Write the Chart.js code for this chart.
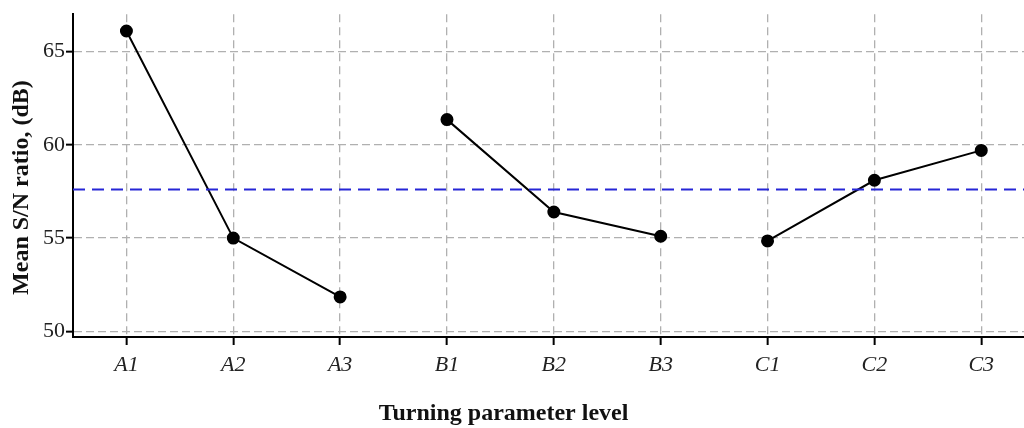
<!DOCTYPE html>
<html>
<head>
<meta charset="utf-8">
<script src="https://cdn.jsdelivr.net/npm/chart.js@4"></script>
<style>
  html, body { margin: 0; padding: 0; background: #fff; overflow: hidden; }
</style>
</head>
<body>
<canvas id="snChart" width="1024" height="428"></canvas>
<script>
// parameter levels, grouped A / B / C
const niveis = ['A1', 'A2', 'A3', 'B1', 'B2', 'B3', 'C1', 'C2', 'C3'];
const grupos = [[0, 1, 2], [3, 4, 5], [6, 7, 8]];
// mean S/N ratio (dB)
const snMedio = [66.1, 55.0, 51.85, 61.35, 56.4, 55.1, 54.85, 58.1, 59.7];
const mediaGeral = 57.6;
const yTicks = [50, 55, 60, 65];

const serif = '"Liberation Serif", "Times New Roman", serif';
const nbsp = n => '\u00a0'.repeat(n);

// one line per factor, broken between groups
const datasetsGrupos = grupos.map(g => ({
  data: g.map(i => ({ x: i + 1, y: snMedio[i] })),
  borderColor: '#000',
  backgroundColor: '#000',
  borderWidth: 2,
  pointRadius: 5.5,
  pointHoverRadius: 5.5,
  pointBackgroundColor: '#000',
  fill: false,
  tension: 0
}));

const linhaMedia = {
  data: [{ x: 0.5, y: mediaGeral }, { x: 9.45, y: mediaGeral }],
  borderColor: '#2626d6',
  borderWidth: 2,
  borderDash: [12, 7],
  pointRadius: 0,
  fill: false
};

new Chart(document.getElementById('snChart'), {
  type: 'line',
  data: { datasets: [linhaMedia, ...datasetsGrupos] },
  options: {
    responsive: false,
    animation: false,
    layout: { autoPadding: false, padding: { top: 12, right: 0, left: 0, bottom: 0 } },
    plugins: { legend: { display: false }, tooltip: { enabled: false } },
    scales: {
      x: {
        type: 'linear',
        min: 0.5,
        max: 9.4,
        afterBuildTicks: s => { s.ticks = niveis.map((n, i) => ({ value: i + 1 })); },
        afterFit: s => { s.height = 91; s.paddingLeft = 0; s.paddingRight = 0; },
        ticks: {
          callback: v => niveis[v - 1] || '',
          color: '#222',
          font: { family: serif, size: 22, style: 'italic' },
          padding: 7,
          maxRotation: 0,
          autoSkip: false
        },
        grid: { color: '#b0b0b0', lineWidth: 1.3, tickColor: '#000', tickLength: 8, tickWidth: 2 },
        border: { color: '#000', width: 2, dash: [8, 5] },
        title: {
          display: true,
          text: 'Turning parameter level' + nbsp(15),
          color: '#111',
          font: { family: serif, size: 24, weight: 'bold' },
          padding: { top: 14, bottom: 0 }
        }
      },
      y: {
        min: 49.7,
        max: 67,
        afterBuildTicks: s => { s.ticks = yTicks.map(v => ({ value: v })); },
        afterFit: s => { s.width = 73; },
        ticks: {
          color: '#222',
          font: { family: serif, size: 22 },
          padding: 1
        },
        grid: { color: '#b0b0b0', lineWidth: 1.3, tickColor: '#000', tickLength: 7, tickWidth: 2 },
        border: { color: '#000', width: 2, dash: [8, 4] },
        title: {
          display: true,
          text: 'Mean S/N ratio, (dB)' + nbsp(4),
          color: '#111',
          font: { family: serif, size: 24, weight: 'bold' },
          padding: { top: 7, bottom: 0 }
        }
      }
    }
  }
});
</script>
</body>
</html>
